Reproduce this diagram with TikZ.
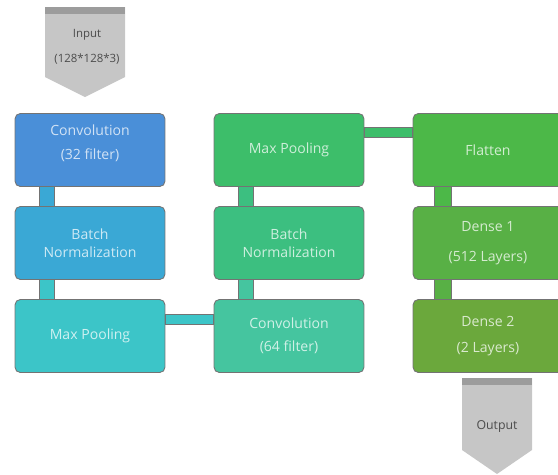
\documentclass[tikz,border=0pt]{standalone}
\usepackage{xcolor}
\usepackage{fontspec}
\setmainfont{Open Sans}
\usetikzlibrary{positioning}

\definecolor{convA}{HTML}{4A8FD8}
\definecolor{normA}{HTML}{3AA8D5}
\definecolor{poolA}{HTML}{3CC5C8}
\definecolor{poolB}{HTML}{3DBE6A}
\definecolor{normB}{HTML}{3CBF80}
\definecolor{convB}{HTML}{45C59F}
\definecolor{flat}{HTML}{4CB848}
\definecolor{denseA}{HTML}{58B045}
\definecolor{denseB}{HTML}{6BA83C}
\definecolor{iogray}{HTML}{C6C6C6}
\definecolor{iotop}{HTML}{9C9C9C}

\begin{document}
\begin{tikzpicture}[x=0.02cm, y=-0.02cm,
  layernode/.style={rectangle, rounded corners=3pt, draw=black!55, line width=0.5pt, minimum width=3cm, minimum height=1.46cm, align=center, font=\fontsize{8}{10}\selectfont, text=white, text opacity=0.75},
  link/.style={draw=black!55, line width=0.5pt},
  iolabel/.style={align=center, font=\fontsize{6.5}{8}\selectfont, text=black!70}]

\useasboundingbox (0,0) rectangle (558,474);

% input / output
\fill[iogray] (45,7) -- (125,7) -- (125,77) -- (85,97) -- (45,77) -- cycle;
\fill[iotop] (45,7) rectangle (125,14);
\node[iolabel] at (87,47) (input) {Input\\[6pt](128*128*3)};

\fill[iogray] (462,378) -- (532,378) -- (532,450) -- (497,474) -- (462,450) -- cycle;
\fill[iotop] (462,378) rectangle (532,385);
\node[iolabel, font=\fontsize{7}{8}\selectfont] at (497,427) (output) {Output};

% first column
\node[layernode, fill=convA] at (90,150) (conv1) {Convolution\\[4pt](32 filter)\\[-1pt]};
\node[layernode, fill=normA] at (90,243) (norm1) {Batch\\Normalization};
\node[layernode, fill=poolA] at (90,336) (pool1) {Max Pooling};

% second column
\node[layernode, fill=poolB] at (289,150) (pool2) {Max Pooling};
\node[layernode, fill=normB] at (289,243) (norm2) {Batch\\Normalization};
\node[layernode, fill=convB] at (289,336) (conv2) {Convolution\\[3pt](64 filter)};

% third column
\node[layernode, fill=flat] at (488,150) (flat) {Flatten};
\node[layernode, fill=denseA] at (488,243) (dense1) {Dense 1\\[7pt](512 Layers)};
\node[layernode, fill=denseB] at (488,336) (dense2) {Dense 2\\[5pt](2 Layers)};

% connecting bars
\draw[link, fill=normA] ([xshift=0.5cm]conv1.south west) rectangle ([xshift=0.8cm]norm1.north west);
\draw[link, fill=poolA] ([xshift=0.5cm]norm1.south west) rectangle ([xshift=0.8cm]pool1.north west);
\draw[link, fill=poolA] ([yshift=0.24cm]pool1.east) rectangle ([yshift=0.44cm]conv2.west);
\draw[link, fill=convB] ([xshift=0.5cm]norm2.south west) rectangle ([xshift=0.8cm]conv2.north west);
\draw[link, fill=normB] ([xshift=0.5cm]pool2.south west) rectangle ([xshift=0.8cm]norm2.north west);
\draw[link, fill=poolB] ([yshift=0.26cm]pool2.east) rectangle ([yshift=0.46cm]flat.west);
\draw[link, fill=flat] ([xshift=0.44cm]flat.south west) rectangle ([xshift=0.78cm]dense1.north west);
\draw[link, fill=denseA] ([xshift=0.44cm]dense1.south west) rectangle ([xshift=0.78cm]dense2.north west);

\end{tikzpicture}
\end{document}
